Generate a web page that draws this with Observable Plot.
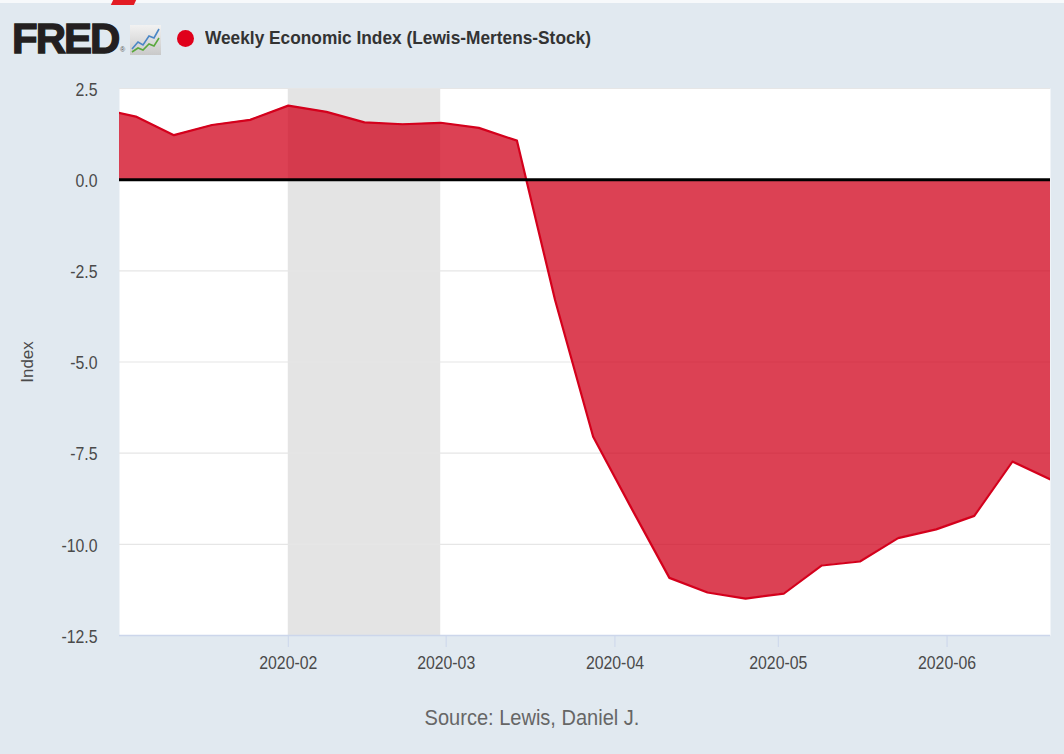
<!DOCTYPE html>
<html><head><meta charset="utf-8">
<script src="https://cdn.jsdelivr.net/npm/d3@7"></script>
<script src="https://cdn.jsdelivr.net/npm/@observablehq/plot@0.6"></script>
<style>
html,body{margin:0;padding:0;background:#e1e9f0;width:1064px;height:754px;overflow:hidden;font-family:"Liberation Sans",Arial,sans-serif;}
#header{position:relative;height:75px;}
.topband{position:absolute;left:0;top:0;width:1064px;height:3px;background:#f7f9fb;}
.redtab{position:absolute;left:112px;top:0;width:23px;height:5px;background:#e31b23;transform:skewX(-25deg);}
.fred{position:absolute;left:12px;top:16px;font-size:42px;font-weight:bold;letter-spacing:-2px;color:#231f20;line-height:46px;-webkit-text-stroke:1.3px #231f20;}
.reg{position:absolute;left:120px;top:46px;font-size:7px;color:#555;}
.icon{position:absolute;left:130px;top:25px;}
.dot{position:absolute;left:177px;top:30px;width:17px;height:17px;border-radius:50%;background:#e0001b;}
.title{position:absolute;left:205px;top:27px;font-size:19px;font-weight:bold;color:#333;line-height:22px;white-space:nowrap;}
.title span{display:inline-block;transform:scaleX(0.91);transform-origin:left center;}
#chart{height:615px;}
#source{height:64px;line-height:56px;text-align:center;font-size:22px;color:#666;}
#source span{display:inline-block;transform:scaleX(0.91);transform-origin:center;}
</style></head><body>
<div id="header">
  <div class="topband"></div>
  <div class="redtab"></div>
  <div class="fred">FRED</div><span class="reg">®</span>
  <svg class="icon" width="31" height="30" viewBox="0 0 31 30">
    <defs><linearGradient id="ig" x1="0" y1="0" x2="0" y2="1"><stop offset="0" stop-color="#f2f2f2"/><stop offset="1" stop-color="#c9c9c9"/></linearGradient></defs>
    <rect x="0" y="0" width="31" height="30" fill="url(#ig)"/>
    <polyline points="2,24 8,17 13,20 19,11 24,13 29,4" fill="none" stroke="#4a86c5" stroke-width="1.6"/>
    <polyline points="2,27 8,23 13,25 19,19 24,21 29,13" fill="none" stroke="#5aa83c" stroke-width="1.6"/>
  </svg>
  <div class="dot"></div>
  <div class="title"><span>Weekly Economic Index (Lewis-Mertens-Stock)</span></div>
</div>
<div id="chart"></div>
<div id="source"><span>Source: Lewis, Daniel J.</span></div>
<script>
const dates = ["2019-12-28","2020-01-04","2020-01-11","2020-01-18","2020-01-25","2020-02-01","2020-02-08","2020-02-15","2020-02-22","2020-02-29","2020-03-07","2020-03-14","2020-03-21","2020-03-28","2020-04-04","2020-04-11","2020-04-18","2020-04-25","2020-05-02","2020-05-09","2020-05-16","2020-05-23","2020-05-30","2020-06-06","2020-06-13","2020-06-20"];
const values = [1.96,1.73,1.22,1.50,1.64,2.03,1.86,1.57,1.52,1.56,1.42,1.07,-3.30,-7.05,-9.00,-10.92,-11.32,-11.49,-11.35,-10.58,-10.47,-9.83,-9.59,-9.22,-7.73,-8.22];
const yTicks = [2.5, 0, -2.5, -5, -7.5, -10, -12.5];
const xTickLabels = ["2020-02","2020-03","2020-04","2020-05","2020-06"];
const xDomain = ["2020-01-01","2020-06-20"];
const recessionStart = ["2020-02-01"];
const recessionEnd = ["2020-02-29"];
const yLabel = "Index";

const data = dates.map((d, i) => ({date: new Date(d), value: values[i]}));
const recession = recessionStart.map((s, i) => ({start: new Date(s), end: new Date(recessionEnd[i])}));
const xTicks = xTickLabels.map(l => new Date(l + "-01"));

const chart = Plot.plot({
  width: 1064,
  height: 615,
  marginLeft: 119,
  marginRight: 14,
  marginTop: 13,
  marginBottom: 55,
  style: {fontFamily: "Liberation Sans, Arial, sans-serif", fontSize: "18px", color: "#4a4a4a", background: "transparent", overflow: "visible"},
  x: {type: "utc", domain: xDomain.map(d => new Date(d))},
  y: {domain: [-12.5, 2.5]},
  marks: [
    Plot.frame({fill: "white", stroke: null}),
    Plot.rect(recession, {x1: "start", x2: "end", fill: "#e4e4e4"}),
    Plot.gridY(yTicks, {stroke: "#e6e6e6", strokeOpacity: 1, strokeWidth: 1.2}),
    Plot.areaY(data, {x: "date", y: "value", fill: "#d0021b", fillOpacity: 0.75, clip: true}),
    Plot.lineY(data, {x: "date", y: "value", stroke: "#d4001c", strokeWidth: 2.2, clip: true}),
    Plot.ruleY([0], {stroke: "#000", strokeWidth: 3}),
    Plot.ruleY([-12.5], {stroke: "#ccd6eb", strokeWidth: 1.5}),
    Plot.axisY(yTicks, {tickSize: 0, tickPadding: 22, dy: 7, tickFormat: d => d.toFixed(1), label: null}),
    Plot.axisX(xTicks, {tickSize: 0, tickPadding: 33, tickFormat: d3.utcFormat("%Y-%m"), label: null}),
    Plot.axisX(xTicks, {tickSize: 12, tickFormat: () => "", stroke: "#ccd6eb", label: null}),
    Plot.text([yLabel], {frameAnchor: "left", textAnchor: "middle", dx: -92, rotate: -90, fontSize: 17, fill: "#4a4a4a"})
  ]
});
document.getElementById("chart").appendChild(chart);

chart.querySelectorAll('g[aria-label="x-axis tick label"] text, g[aria-label="y-axis tick label"] text').forEach(t => {
  const x = parseFloat(t.getAttribute("x") || 0) || 0;
  const y = parseFloat(t.getAttribute("y") || 0) || 0;
  const tr = t.getAttribute("transform") || "";
  t.setAttribute("transform", `${tr} translate(${x},${y}) scale(0.88,1)`);
  t.removeAttribute("x");
  t.removeAttribute("y");
});
</script>
</body></html>
